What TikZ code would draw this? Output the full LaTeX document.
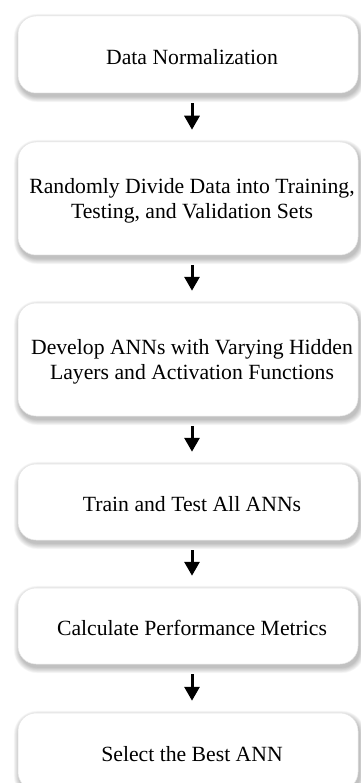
\documentclass[tikz,border=0pt]{standalone}
\usepackage{fontspec}
\setmainfont{Liberation Serif}
\usetikzlibrary{arrows.meta,backgrounds}
\begin{document}
\begin{tikzpicture}[x=1pt,y=-1pt,
  boxstyle/.style={draw=black!10, line width=0.5pt, fill=white, rounded corners=18pt,
    minimum width=340pt, inner sep=0pt},
  txt/.style={font=\fontsize{21.7}{25}\selectfont, align=center, inner sep=0pt},
  flow/.style={line width=3pt, -{Triangle[width=15pt,length=14pt]}, black}]
\useasboundingbox (0,0) rectangle (360,783);
\node[boxstyle, minimum height=77pt]  (b1) at (188,54.5) {};
\node[boxstyle, minimum height=113pt] (b2) at (188,198.5) {};
\node[boxstyle, minimum height=113pt] (b3) at (188,359.5) {};
\node[boxstyle, minimum height=76pt]  (b4) at (188,502) {};
\node[boxstyle, minimum height=76pt]  (b5) at (188,626) {};
\node[boxstyle, minimum height=77pt]  (b6) at (188,751.5) {};
\node[txt] (t1) at (192,57) {Data Normalization};
\node[txt] (t2) at (192,201) {Randomly Divide Data into Training,\\Testing, and Validation Sets};
\node[txt] (t3) at (192,362) {Develop ANNs with Varying Hidden\\Layers and Activation Functions};
\node[txt] (t4) at (192,504) {Train and Test All ANNs};
\node[txt] (t5) at (192,628) {Calculate Performance Metrics};
\node[txt] (t6) at (192,754) {Select the Best ANN};
\begin{scope}[on background layer]
  \foreach \b in {b1,b2,b3,b4,b5,b6}{
    \foreach \i in {0,...,9}{
      \fill[black, fill opacity=0.028, rounded corners=18pt+\i*0.6pt]
        ([xshift=1.5pt-\i*0.6pt, yshift=-3.5pt-\i*0.6pt]\b.south west) rectangle
        ([xshift=1.5pt+\i*0.6pt, yshift=-3.5pt+\i*0.6pt]\b.north east);
    }
  }
\end{scope}
\foreach \a/\c in {b1/b2,b2/b3,b3/b4,b4/b5,b5/b6}{
  \draw[flow] ([xshift=4pt,yshift=-10pt]\a.south) -- ([xshift=4pt,yshift=12pt]\c.north);
}
\end{tikzpicture}
\end{document}
